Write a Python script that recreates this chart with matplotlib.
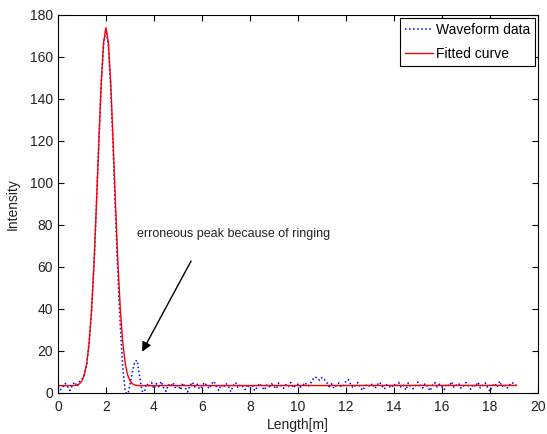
import matplotlib
matplotlib.use("Agg")
import matplotlib.pyplot as plt
import numpy as np

plt.rcParams['font.family'] = ['Liberation Sans', 'DejaVu Sans']

# waveform samples, every 0.1 m starting at 0
wave_start = 0.0
wave_step = 0.1
wave_y = [
    3.2, 1.5, 2.8, 4.6, 3.0, 1.2, 3.8, 5.2, 3.1, 5.4,
    6.5, 9.0, 13.5, 24.5, 40.0, 60.5, 89.5, 118.0, 147.5, 166.0,
    173.5, 165.5, 145.0, 116.0, 84.0, 55.0, 31.0, 12.0, 1.0, -1.5,
    4.0, 10.0, 15.0, 15.5, 8.0, 1.0, 0.5, 4.5, 3.0, 5.0,
    2.0, 4.5, 3.0, 5.5, 2.5, 0.8, 4.0, 3.2, 5.0, 2.2,
    3.8, 1.5, 4.8, 2.6, 0.5, 3.5, 5.2, 2.8, 4.2, 1.8,
    3.0, 5.0, 3.6, 2.0, 4.4, 5.6, 3.0, 1.2, 3.9, 2.6,
    4.6, 3.2, 0.6, 3.4, 5.0, 2.4, 4.0, 3.0, 1.6, 4.2,
    2.0, 3.6, 1.0, 2.8, 4.6, 3.0, 1.4, 3.8, 2.6, 4.4,
    3.2, 2.0, 4.8, 3.4, 2.2, 4.0, 3.0, 5.0, 2.4, 3.6,
    4.2, 2.8, 3.6, 5.0, 3.2, 4.0, 6.2, 7.6, 7.2, 6.0,
    7.4, 6.4, 5.0, 3.0, 4.4, 2.2, 3.6, 4.8, 2.8, 3.4,
    5.6, 6.4, 4.0, 2.4, 3.8, 5.0, 2.6, 1.2, 3.4, 4.2,
    3.0, 4.6, 2.2, 3.8, 5.2, 3.4, 1.8, 4.0, 3.2, 2.4,
    4.4, 3.0, 5.0, 2.6, 3.6, 1.4, 4.8, 3.2, 2.0, 3.8,
    5.2, 3.4, 2.4, 4.6, 3.0, 1.0, 3.6, 5.0, 2.8, 4.2,
    3.0, 1.6, 4.4, 3.2, 5.4, 2.6, 3.8, 4.6, 2.2, 3.4,
    5.0, 3.2, 1.8, 4.2, 3.0, 5.2, 2.4, 3.6, 4.8, 2.6,
    0.8, 3.4, 4.6, 2.8, 5.6, 3.0, 4.2, 2.2, 3.6, 5.0,
    4.4, 3.6,
]
wave_x = np.round(wave_start + wave_step * np.arange(len(wave_y)), 2)

# fitted curve
fit_x = [0.0, 0.6, 0.7, 0.8, 0.9, 1.0, 1.1, 1.2, 1.3, 1.4, 1.5, 1.6, 1.7, 1.8, 1.9,
         2.0, 2.1, 2.2, 2.3, 2.4, 2.5, 2.6, 2.7, 2.8, 2.9, 3.0, 3.1, 3.2, 3.3, 3.4, 19.1]
fit_y = [3.5, 3.5, 3.6, 3.8, 4.4, 5.8, 8.6, 14.2, 24.0, 39.4, 61.3, 88.9, 119.0, 146.9, 166.8,
         174.0, 166.8, 146.9, 119.0, 88.9, 61.3, 39.4, 24.0, 14.2, 8.6, 5.8, 4.4, 3.8, 3.6, 3.5, 3.6]

x_ticks = [0, 2, 4, 6, 8, 10, 12, 14, 16, 18, 20]
y_ticks = [0, 20, 40, 60, 80, 100, 120, 140, 160, 180]

fig = plt.figure(figsize=(5.47, 4.34), dpi=100)
ax = fig.add_axes([0.106, 0.0945, 0.8775, 0.871])

ax.plot(wave_x, wave_y, linestyle=':', color='#0000ff', linewidth=1.1, label='Waveform data')
ax.plot(fit_x, fit_y, linestyle='-', color='#ff0000', linewidth=1.0, label='Fitted curve')

ax.set_xlim(0, 20)
ax.set_ylim(0, 180)
ax.set_xticks(x_ticks)
ax.set_yticks(y_ticks)
ax.tick_params(direction='in', top=True, right=True, length=4, width=0.8,
               labelsize=10, colors='black', labelcolor='#222222')
ax.tick_params(axis='x', pad=5)
for sp in ax.spines.values():
    sp.set_linewidth(0.8)

ax.set_xlabel('Length[m]', fontsize=10, color='#222222', labelpad=3)
ax.set_ylabel('Intensity', fontsize=10, color='#222222', labelpad=7)

leg = ax.legend(loc='upper right', fontsize=10, fancybox=False, framealpha=1,
                edgecolor='black', borderpad=0.35, handlelength=2.0,
                labelspacing=0.75, handletextpad=0.25, borderaxespad=0.2)
leg.get_frame().set_linewidth(0.8)

ax.annotate('erroneous peak because of ringing', xy=(3.45, 18.5), xytext=(3.3, 73),
            fontsize=9, color='#222222', ha='left', va='bottom')
ax.annotate('', xy=(3.45, 18.5), xytext=(5.6, 64),
            arrowprops=dict(arrowstyle='-|>', color='black', lw=1.0, mutation_scale=14))

fig.savefig('out.png', dpi=100)
